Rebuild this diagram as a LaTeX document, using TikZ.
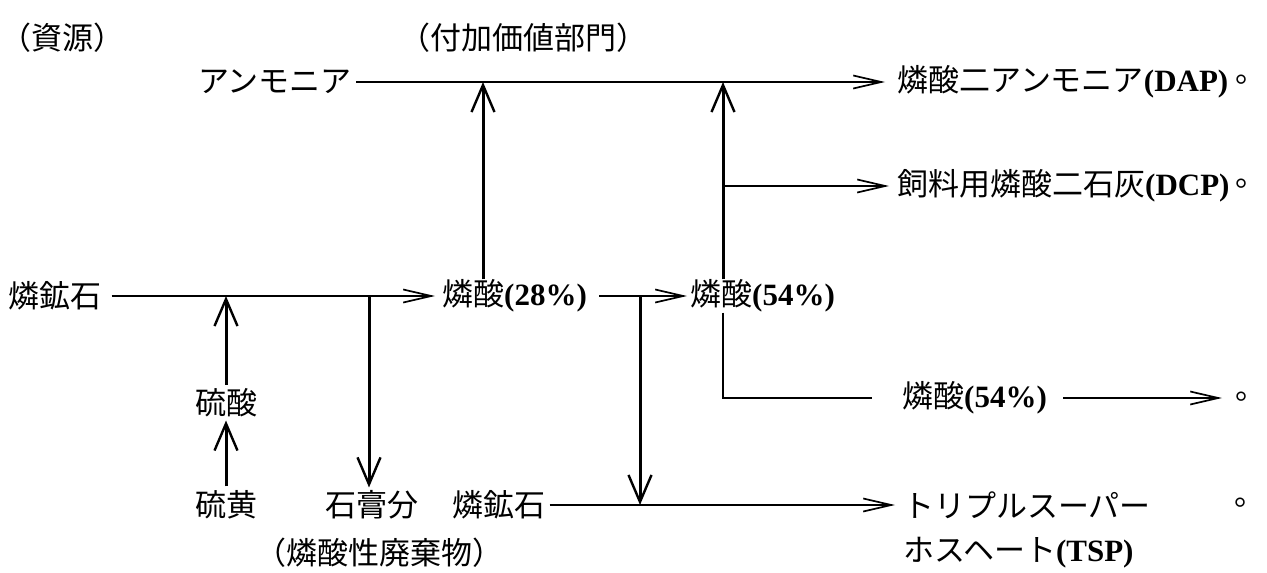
\documentclass[tikz,border=0pt]{standalone}
\usepackage{fontspec}
\setmainfont{Liberation Serif}
\newfontfamily\cjk{Noto Sans CJK JP}
\usetikzlibrary{arrows.meta}
\begin{document}
\begin{tikzpicture}[x=1pt,y=-1pt,
  lbl/.style={inner sep=0pt, font=\fontsize{31}{33}\selectfont},
  dotlbl/.style={inner sep=0pt, anchor=base west, font=\fontsize{31}{33}\selectfont\cjk},
  hline/.style={line width=1.5pt},
  vline/.style={line width=3pt},
  harr/.style={-{Straight Barb[length=28pt,width=13pt,line width=1.7pt]}},
  varr/.style={-{Straight Barb[length=27pt,width=23pt,line width=2.4pt]}}
]
\useasboundingbox[fill=white] (0,0) rectangle (1267,573);

% texts
\node[lbl] (res)  at (63,38)  {\cjk （資源）};
\node[lbl] (dept) at (523,38) {\cjk （付加価値部門）};
\node[lbl] (amm)  at (275,82) {\cjk アンモニア};
\node[lbl,anchor=west] (dap) at (897,82) {{\cjk 燐酸二アンモニア}\textbf{(DAP)}};
\node[lbl,anchor=west] (dcp) at (897,186) {{\cjk 飼料用燐酸二石灰}\textbf{(DCP)}};
\node[lbl] (ore1) at (55,296) {\cjk 燐鉱石};
\node[lbl,anchor=west] (p28) at (442,296) {{\cjk 燐酸}\textbf{(28\%)}};
\node[lbl,anchor=west] (p54) at (690,296) {{\cjk 燐酸}\textbf{(54\%)}};
\node[lbl] (h2so4) at (226,403) {\cjk 硫酸};
\node[lbl] (sulf)  at (226,505) {\cjk 硫黄};
\node[lbl] (gyp)   at (372,505) {\cjk 石膏分};
\node[lbl] (waste) at (379,553) {\cjk （燐酸性廃棄物）};
\node[lbl] (ore2)  at (499,505) {\cjk 燐鉱石};
\node[lbl,anchor=west] (tsp1) at (903,505) {\cjk トリプルスーパー};
\node[lbl,anchor=west] (tsp2) at (903,553) {{\cjk ホスヘート}\textbf{(TSP)}};
\node[lbl,anchor=west] (p54b) at (902,398) {{\cjk 燐酸}\textbf{(54\%)}};
% full stops
\node[dotlbl] (dot1) at (1235,82) {\makebox[11pt][l]{。}};
\node[dotlbl] (dot2) at (1235,186) {\makebox[11pt][l]{。}};
\node[dotlbl] (dot3) at (1235,399) {\makebox[11pt][l]{。}};
\node[dotlbl] (dot4) at (1234,505) {\makebox[11pt][l]{。}};

% junctions
\coordinate (j1) at (483,82);
\coordinate (j2) at (723,82);
\coordinate (jd) at (723,186);
\coordinate (js) at (226,296);
\coordinate (jg) at (369,296);
\coordinate (jt) at (640,296);
\coordinate (jb) at (640,505);
\coordinate (jp) at (723,398);
\coordinate (je) at (872,398);

% connectors
\draw[hline,harr,shorten >=12pt,shorten <=4pt] (amm.east) -- (amm.east -| dap.west);
\draw[vline,varr] (j1 |- p28.north) -- (j1);
\draw[vline,varr] (j2 |- p54.north) -- (j2);
\draw[hline,harr,shorten >=8pt] (jd) -- (jd -| dcp.west);
\draw[hline,harr,shorten >=7pt,shorten <=10pt] (ore1.east) -- (ore1.east -| p28.west);
\draw[vline,varr,shorten <=4pt] (h2so4.north) -- (js);
\draw[vline,varr,shorten <=4pt,shorten >=3pt] (sulf.north) -- (h2so4.south);
\draw[vline,varr,shorten >=3pt] (jg) -- (jg |- gyp.north);
\draw[hline,harr,shorten >=3pt,shorten <=12pt] (p28.east) -- (p28.east -| p54.west);
\draw[vline,varr] (jt) -- (jb);
\draw[hline,harr,shorten >=8pt,shorten <=4pt] (ore2.east) -- (ore2.east -| tsp1.west);
\draw[line width=2.4pt] (j2 |- p54.south) -- (jp) -- (je);
\draw[hline,harr,shorten >=13pt,shorten <=16pt] (p54b.east) -- (p54b.east -| dot3.west);
\end{tikzpicture}
\end{document}
